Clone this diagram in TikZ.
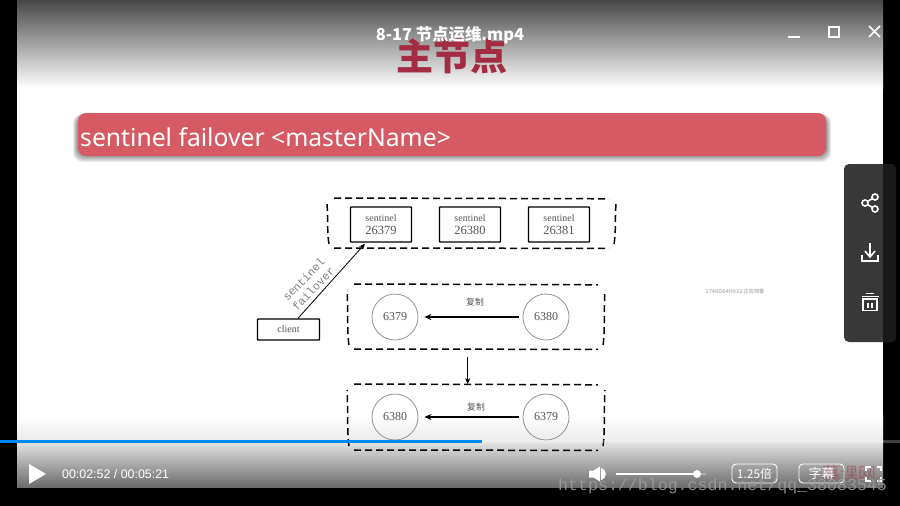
\documentclass[tikz,border=0pt]{standalone}
\usepackage{fontspec}
\usetikzlibrary{arrows.meta,calc}
\setmainfont{Liberation Serif}
\newfontfamily\cjkf{Noto Sans CJK SC}
\newfontfamily\uif{Noto Sans}
\newfontfamily\monof{Liberation Mono}
\newfontfamily\timef{Liberation Sans}
\newcommand{\szf}[1]{\fontsize{#1}{#1}\selectfont}
\definecolor{barred}{HTML}{D55A64}
\definecolor{titlered}{HTML}{A32C42}
\definecolor{inkgray}{HTML}{555555}
\definecolor{blueprog}{HTML}{0088FF}
\tikzset{
  handbox/.style={draw=black,line width=1.4pt,rounded corners=.6pt,minimum width=61pt,minimum height=35pt,inner sep=0pt,align=center,text=inkgray,font=\szf{10}},
  clientbox/.style={handbox,minimum width=62pt,minimum height=21pt},
  dashline/.style={draw=black,line width=1.5pt,dash pattern=on 7pt off 4pt},
  region/.style={inner sep=0pt},
  rediscircle/.style={circle,draw=gray!85,line width=.8pt,minimum size=46pt,inner sep=0pt,text=inkgray,font=\szf{12}},
  copylabel/.style={text=inkgray,font=\cjkf\szf{8.8}},
  copyarrow/.style={-{Stealth[length=7pt,width=6pt]},line width=1.4pt,black,shorten >=6pt,shorten <=4pt},
  icon/.style={draw=white,line width=1.6pt},
  uitext/.style={text=white,inner sep=0pt},
  btn/.style={draw=white,line width=.9pt,rounded corners=4pt,uitext,minimum height=19pt}
}
\newcommand{\dashregion}[5]{%
  \node[region,minimum width={(#3)-(#1)},minimum height={(#4)-(#2)},anchor=north west] (#5) at (#1,#2) {};
  \draw[dashline] ({#1+7},#2) -- ({#3-7},{#2+.8});
  \draw[dashline] ({#1+7},#4) -- ({#3-7},{#4+.4});
  \draw[dashline] ({#1+2},{#4-4}) .. controls (#1,{#4-14}) and ({#1+1},{#2+16}) .. (#1,{#2+6});
  \draw[dashline] ({#3-2},{#4-4}) .. controls (#3,{#4-14}) and ({#3-1},{#2+16}) .. (#3,{#2+6});
}
\begin{document}
\begin{tikzpicture}[x=1pt,y=-1pt]
\useasboundingbox (0,0) rectangle (900,506);
% frame
\fill[black] (0,0) rectangle (900,506);
\fill[white] (17,0) rectangle (883,487);
% top and bottom shades
\shade[top color=black!72,bottom color=white] (17,0) rectangle (883,88);
\shade[top color=white,bottom color=black!8] (17,415) rectangle (883,441);
\shade[top color=black!10,bottom color=black!58] (17,441) rectangle (883,487);
% slide title
\node[text=titlered,font=\cjkf\bfseries\szf{37},inner sep=0pt] (slidetitle) at (452,56) {主节点};
% red bar with a soft shadow
\foreach \g in {1,2,...,7}{
  \fill[black,opacity=.07,rounded corners=9pt] ({78-\g*.7},{116-\g*.3}) rectangle ({826+\g*.7},{155+\g});
}
\node[fill=barred,rounded corners=8pt,minimum width=748pt,minimum height=43pt,inner sep=0pt] (redbar) at (452,134.5) {};
\node[anchor=west,text=white,font=\uif\szf{24.7},inner sep=0pt] (cmd) at (80,137) {sentinel failover <masterName>};
% regions
\dashregion{327}{198}{616}{248}{topregion}
\dashregion{347}{284}{605}{349}{midregion}
\dashregion{347}{384}{605}{450}{lowregion}
% sentinels
\node[handbox] (s1) at (381,224.5) {sentinel\\[2.5pt]{\szf{12.5}26379}};
\node[handbox] (s2) at (470,224.5) {sentinel\\[2.5pt]{\szf{12.5}26380}};
\node[handbox] (s3) at (559,224.5) {sentinel\\[2.5pt]{\szf{12.5}26381}};
\node[clientbox] (client) at (288.5,329.5) {client};
% circles
\node[rediscircle] (m1) at (395,317) {6379};
\node[rediscircle] (r1) at (546,317) {6380};
\node[rediscircle] (m2) at (395,417) {6380};
\node[rediscircle] (r2) at (546,417) {6379};
\draw[copyarrow] (r1) -- (m1);
\draw[copyarrow] (r2) -- (m2);
\node[copylabel] (c1) at (475,302) {复制};
\node[copylabel] (c2) at (476,407) {复制};
% connectors
\draw[-{Stealth[length=6pt,width=5pt]},line width=.8pt,black] ($(client.north)+(9.5,0)$) -- ($(s1.south)+(-16,1)$);
\draw[-{Stealth[length=6pt,width=5pt]},line width=.8pt,black,shorten <=8pt] (midregion.south -| 467.7,349) -- (lowregion.north -| 467.7,384);
\node[rotate=46,align=center,text=gray,font=\monof\szf{11.4},inner sep=0pt] (failover) at (308.5,284) {sentinel\\[2pt]failover};
% viewer note
\node[text=black!25,font=\cjkf\bfseries\szf{5.2},inner sep=0pt] (viewer) at (735,292) {174RD64H932 正在观看};
% window title and controls
\node[uitext,font=\cjkf\bfseries\szf{16.4}] (wintitle) at (450,35) {8-17 节点运维.mp4};
\draw[icon] (788,36.7) -- (800,36.7);
\draw[icon] (829,27) rectangle (839,37);
\draw[icon] (869,26) -- (880,37) (880,26) -- (869,37);
% side panel
\fill[fill=black!78,rounded corners=5pt] (844,164) rectangle (896,342);
\begin{scope}
\clip (883,160) rectangle (900,346);
\fill[fill=black!90,rounded corners=5pt] (844,164) rectangle (896,342);
\end{scope}
\draw[icon] (875,197) -- (865,203) -- (875,209);
\fill[black!78] (875,197) circle (3) (865,203) circle (3) (875,209) circle (3);
\draw[icon] (875,197) circle (3) (865,203) circle (3) (875,209) circle (3);
\draw[icon] (870,243) -- (870,257) (865,251) -- (870,257) -- (875,251);
\draw[icon] (862,255) -- (862,261) -- (878,261) -- (878,255);
\draw[icon] (861.5,296.5) -- (878.5,296.5) (866,293.5) -- (874,293.5);
\draw[icon] (863,299) rectangle (877,310.5);
\draw[icon] (868,303) -- (868,307.5) (872,303) -- (872,307.5);
% progress
\fill[white,opacity=.25] (482,440) rectangle (900,443);
\fill[blueprog] (0,440) rectangle (482,443);
% player controls
\fill[white] (29,464) -- (46,474) -- (29,484) -- cycle;
\node[uitext,anchor=west,font=\timef\szf{12.4}] (clock) at (62,474.5) {00:02:52 / 00:05:21};
\fill[white] (589,470.5) -- (593.5,470.5) -- (600,466.5) -- (600,481.5) -- (593.5,477.5) -- (589,477.5) -- cycle;
\fill[white] (601,468) .. controls (607.5,470) and (607.5,478) .. (601,480) -- cycle;
\draw[gray!60,line width=1.4pt] (697,474) -- (706,474);
\draw[white,line width=1.6pt] (616,474) -- (697,474);
\fill[white] (697,474) circle (4);
\node[btn,minimum width=45pt,font=\cjkf\szf{12}] (speed) at (754.5,473.5) {1.25倍};
\node[text=titlered,opacity=.45,font=\cjkf\szf{18},inner sep=0pt] (brand) at (849,474) {慕课网};
\node[btn,minimum width=45pt,font=\cjkf\szf{13}] (subs) at (821.5,473.5) {字幕};
\draw[icon] (866,471) -- (866,467) -- (871,467) (877,467) -- (881,467) -- (881,471) (881,477) -- (881,481) -- (877,481) (871,481) -- (866,481) -- (866,477);
% blog watermark
\node[text=black!38,opacity=.85,font=\monof\szf{16.6},inner sep=0pt,anchor=west] (blog) at (558,486) {https://blog.csdn.net/qq\_38083545};
\end{tikzpicture}
\end{document}
